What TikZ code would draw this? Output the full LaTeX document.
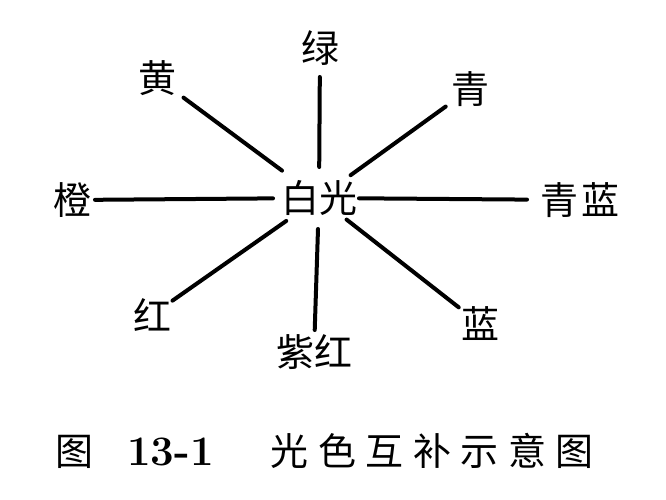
\documentclass[tikz,border=0pt]{standalone}
\usepackage{fontspec}
\newfontfamily\cjk{Noto Sans CJK SC}
\tikzset{
  colour/.style={font=\cjk\fontsize{38}{40}\selectfont, inner sep=0pt},
  ray/.style 2 args={line width=4pt, line cap=round, shorten <=#1pt, shorten >=#2pt}
}
\newcommand{\capgap}{\hspace{9.5pt}}

\begin{document}
\begin{tikzpicture}[x=1pt,y=-1pt]
        \useasboundingbox (0,0) rectangle (666,500);
        % white light in the middle
        \node[colour] (bai) at (319,198) {白光};
        % the colours round it
        \node[colour] (lv) at (320,48) {绿};
        \node[colour] (huang) at (157,78) {黄};
        \node[colour] (qing) at (470,89) {青};
        \node[colour] (cheng) at (72,200) {橙};
        \node[colour] (qinglan) at (580,200) {青\hspace{4pt}蓝};
        \node[colour] (hong) at (152,315) {红};
        \node[colour] (zihong) at (314,352) {紫红};
        \node[colour] (lan) at (480,324) {蓝};
        \foreach \tip/\gapin/\gapout in {lv/31/29, huang/46/33, qing/39/30, cheng/46/23,
            qinglan/40/53, hong/40/25, zihong/31/22, lan/35/27}{
            \draw[ray={\gapin}{\gapout}] (bai.center) -- (\tip.center);
            }
        % caption
        \node[colour, anchor=west] (caption) at (55,451)
            {图\hspace{34pt}{\rmfamily\bfseries\fontsize{42}{44}\selectfont 13-1}\hspace{57pt}光\capgap 色\capgap 互\capgap 补\capgap 示\capgap 意\capgap 图};
    \end{tikzpicture}
\end{document}
